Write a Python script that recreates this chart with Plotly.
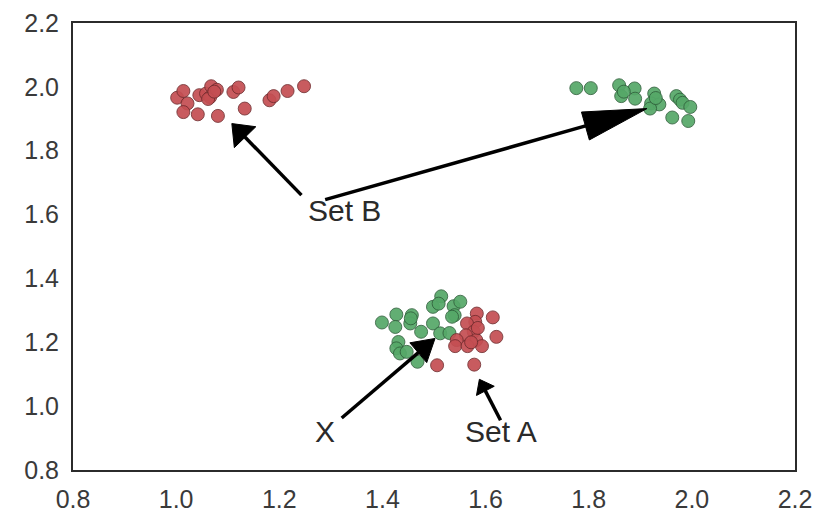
import plotly.graph_objects as go
import math

# ---------------- data ----------------
red_top_x = [1.002, 1.014, 1.022, 1.014, 1.042, 1.045, 1.058, 1.068, 1.066, 1.079,
             1.081, 1.111, 1.121, 1.133, 1.181, 1.189, 1.216, 1.248, 1.062, 1.074]
red_top_y = [1.966, 1.987, 1.948, 1.921, 1.914, 1.974, 1.979, 2.002, 1.968, 1.991,
             1.909, 1.984, 1.998, 1.932, 1.958, 1.971, 1.987, 2.002, 1.962, 1.985]

green_top_x = [1.776, 1.804, 1.859, 1.863, 1.889, 1.890, 1.927, 1.921, 1.937, 1.919,
               1.970, 1.977, 1.982, 1.997, 1.962, 1.993, 1.868, 1.930]
green_top_y = [1.996, 1.996, 2.005, 1.971, 1.995, 1.963, 1.979, 1.948, 1.945, 1.932,
               1.971, 1.960, 1.950, 1.937, 1.904, 1.893, 1.985, 1.965]

green_mid_x = [1.399, 1.427, 1.425, 1.457, 1.454, 1.475, 1.498, 1.514, 1.509, 1.538,
               1.551, 1.540, 1.535, 1.498, 1.512, 1.530, 1.431, 1.427, 1.434, 1.447,
               1.468, 1.455]
green_mid_y = [1.262, 1.287, 1.248, 1.285, 1.259, 1.233, 1.311, 1.344, 1.321, 1.313,
               1.327, 1.285, 1.280, 1.259, 1.228, 1.229, 1.201, 1.181, 1.165, 1.170,
               1.139, 1.275]

red_mid_x = [1.583, 1.580, 1.564, 1.614, 1.577, 1.562, 1.582, 1.544, 1.541, 1.565,
             1.593, 1.621, 1.506, 1.578, 1.585, 1.572]
red_mid_y = [1.290, 1.264, 1.259, 1.278, 1.233, 1.222, 1.207, 1.207, 1.188, 1.188,
             1.188, 1.217, 1.128, 1.130, 1.245, 1.200]

# annotation arrows: (tail x, tail y, tip x, tip y, head length px, head half-width px)
arrow_tail_x = [1.243, 1.289, 1.321, 1.629]
arrow_tail_y = [1.661, 1.647, 0.963, 0.956]
arrow_tip_x = [1.108, 1.913, 1.502, 1.588]
arrow_tip_y = [1.885, 1.932, 1.212, 1.084]
arrow_head_len = [19, 64, 22, 13]
arrow_head_hw = [15, 14.5, 13, 10]

label_text = ["Set B", "X", "Set A"]
label_x = [1.326, 1.288, 1.629]
label_y = [1.613, 0.922, 0.922]

tick_vals = [0.8, 1.0, 1.2, 1.4, 1.6, 1.8, 2.0, 2.2]
tick_text = ["0.8", "1.0", "1.2", "1.4", "1.6", "1.8", "2.0", "2.2"]

# ---------------- layout geometry ----------------
W, H = 823, 514
ML, MR, MT, MB = 73, 28, 23, 44
PW, PH = W - ML - MR, H - MT - MB
X0, X1, Y0, Y1 = 0.8, 2.2, 0.8, 2.2


def to_px(x, y):
    return (x - X0) / (X1 - X0) * PW, (Y1 - y) / (Y1 - Y0) * PH


def to_data(px, py):
    return X0 + px / PW * (X1 - X0), Y1 - py / PH * (Y1 - Y0)


RED = "#C44E52"
GREEN = "#55A868"

fig = go.Figure()
for xs, ys, c, lc in [(green_mid_x, green_mid_y, GREEN, "#2f5e3a"),
                      (red_mid_x, red_mid_y, RED, "#6e2a2d"),
                      (red_top_x, red_top_y, RED, "#6e2a2d"),
                      (green_top_x, green_top_y, GREEN, "#2f5e3a")]:
    fig.add_trace(go.Scatter(x=xs, y=ys, mode="markers",
                             marker=dict(size=13, color=c, opacity=0.92,
                                         line=dict(width=0.9, color=lc)),
                             hoverinfo="skip", showlegend=False))

# arrows built from tail/tip arrays
for tx, ty, hx, hy, hl, hw in zip(arrow_tail_x, arrow_tail_y, arrow_tip_x, arrow_tip_y,
                                  arrow_head_len, arrow_head_hw):
    p0 = to_px(tx, ty)
    p1 = to_px(hx, hy)
    dx, dy = p1[0] - p0[0], p1[1] - p0[1]
    L = math.hypot(dx, dy)
    ux, uy = dx / L, dy / L
    bx, by = p1[0] - ux * hl, p1[1] - uy * hl
    nx, ny = -uy, ux
    c1 = to_data(bx + nx * hw, by + ny * hw)
    c2 = to_data(bx - nx * hw, by - ny * hw)
    mid = to_data(bx + ux * 2, by + uy * 2)
    fig.add_trace(go.Scatter(x=[tx, mid[0]], y=[ty, mid[1]], mode="lines",
                             line=dict(color="black", width=3.5),
                             hoverinfo="skip", showlegend=False))
    fig.add_trace(go.Scatter(x=[hx, c1[0], c2[0], hx], y=[hy, c1[1], c2[1], hy],
                             mode="lines", fill="toself", fillcolor="black",
                             line=dict(color="black", width=1),
                             hoverinfo="skip", showlegend=False))

for t, x, y in zip(label_text, label_x, label_y):
    fig.add_annotation(x=x, y=y, text=t, showarrow=False,
                       font=dict(size=30, color="#2a2a2a", family="Liberation Sans, Arial"),
                       xanchor="center", yanchor="middle")

axis_common = dict(range=[X0, X1], tickvals=tick_vals, ticktext=tick_text,
                   showgrid=False, zeroline=False, showline=True, mirror=True,
                   linecolor="#2b2b2b", linewidth=2, ticks="", automargin=False,
                   tickfont=dict(size=25, color="#3a3a3a", family="Liberation Sans, Arial"),
                   fixedrange=True)

fig.update_layout(
    width=W, height=H,
    margin=dict(l=ML, r=MR, t=MT, b=MB),
    paper_bgcolor="white", plot_bgcolor="white",
    xaxis=dict(axis_common, ticklabelstandoff=6),
    yaxis=dict(axis_common, range=[Y0, Y1], ticklabelstandoff=7),
    showlegend=False,
)

fig.write_html("out.html", config={"displayModeBar": False},
               post_script="document.body.style.margin='0';document.body.style.overflow='hidden';")
